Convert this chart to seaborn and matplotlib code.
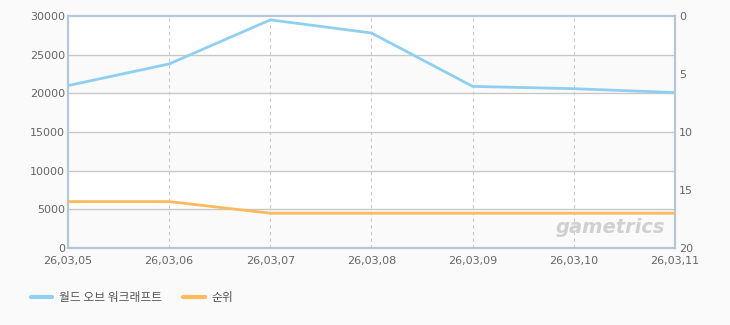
import matplotlib
matplotlib.use("Agg")
import matplotlib.pyplot as plt
import seaborn as sns
import pandas as pd

dates = ["26,03,05", "26,03,06", "26,03,07", "26,03,08", "26,03,09", "26,03,10", "26,03,11"]
players = [21000, 23800, 29500, 27800, 20900, 20600, 20100]
ranks = [16, 16, 17, 17, 17, 17, 17]
series_name = "월드 오브 워크래프트"
rank_name = "순위"

sns.set_theme(style="white")
plt.rcParams['font.family'] = ['Noto Sans CJK KR', 'DejaVu Sans']

df = pd.DataFrame({"x": range(len(dates)), "players": players, "rank": ranks})

bg = "#fafafa"
fig = plt.figure(figsize=(7.3, 3.25), dpi=100, facecolor=bg)
ax = fig.add_axes([68/730, 77/325, 607/730, 232/325])
ax.set_facecolor("white")

# alternating bands
for i, lo in enumerate(range(0, 30000, 5000)):
    if i % 2 == 0:
        ax.axhspan(lo, lo + 5000, color=bg, zorder=0, lw=0)

blue = "#8fd0f0"
orange = "#f9bb5c"
sns.lineplot(data=df, x="x", y="players", ax=ax, color=blue, lw=2, zorder=5)
ax.set_ylim(0, 30000)
ax.set_xlim(0, len(dates) - 1)
ax.set_yticks(range(0, 30001, 5000))
ax.set_xticks(range(len(dates)))
ax.set_xticklabels(dates)
ax.set_xlabel("")
ax.set_ylabel("")
for y in range(5000, 30000, 5000):
    ax.axhline(y, color="#c8c8c8", lw=1, zorder=1)
for x in range(1, len(dates) - 1):
    ax.axvline(x, color="#c8c8c8", lw=0.8, ls=(0, (3, 3)), zorder=1)

ax2 = ax.twinx()
sns.lineplot(data=df, x="x", y="rank", ax=ax2, color=orange, lw=2, zorder=5)
ax2.set_ylim(20, 0)
ax2.set_yticks([0, 5, 10, 15, 20])
ax2.set_ylabel("")
ax2.set_xlim(0, len(dates) - 1)

spine_c = "#b4c6da"
for a in (ax, ax2):
    for s in a.spines.values():
        s.set_color(spine_c)
        s.set_linewidth(1.5)
    a.tick_params(length=0, labelsize=8, colors="#666666")
ax.tick_params(axis="y", pad=2)
ax.tick_params(axis="x", pad=6)
ax2.tick_params(axis="y", pad=3)
for lbl in ax.get_yticklabels() + ax2.get_yticklabels() + ax.get_xticklabels():
    lbl.set_color("#666666")
    lbl.set_family(["DejaVu Sans"])

ax.text(0.983, 0.09, "gametrics", transform=ax.transAxes, ha="right", va="center",
        fontsize=14, fontweight="bold", style="italic", color="#d0d0d0",
        family=["DejaVu Sans"], zorder=6)

from matplotlib.lines import Line2D
handles = [Line2D([], [], color=blue, lw=3), Line2D([], [], color=orange, lw=3)]
fig.legend(handles, [series_name, rank_name], loc="center left",
           bbox_to_anchor=(20/730, 1 - 298/325), ncol=2, frameon=False,
           fontsize=8.5, labelcolor="#555555", handlelength=1.8, handletextpad=0.6,
           columnspacing=1.8)

fig.savefig("out.png", dpi=100, facecolor=bg)
